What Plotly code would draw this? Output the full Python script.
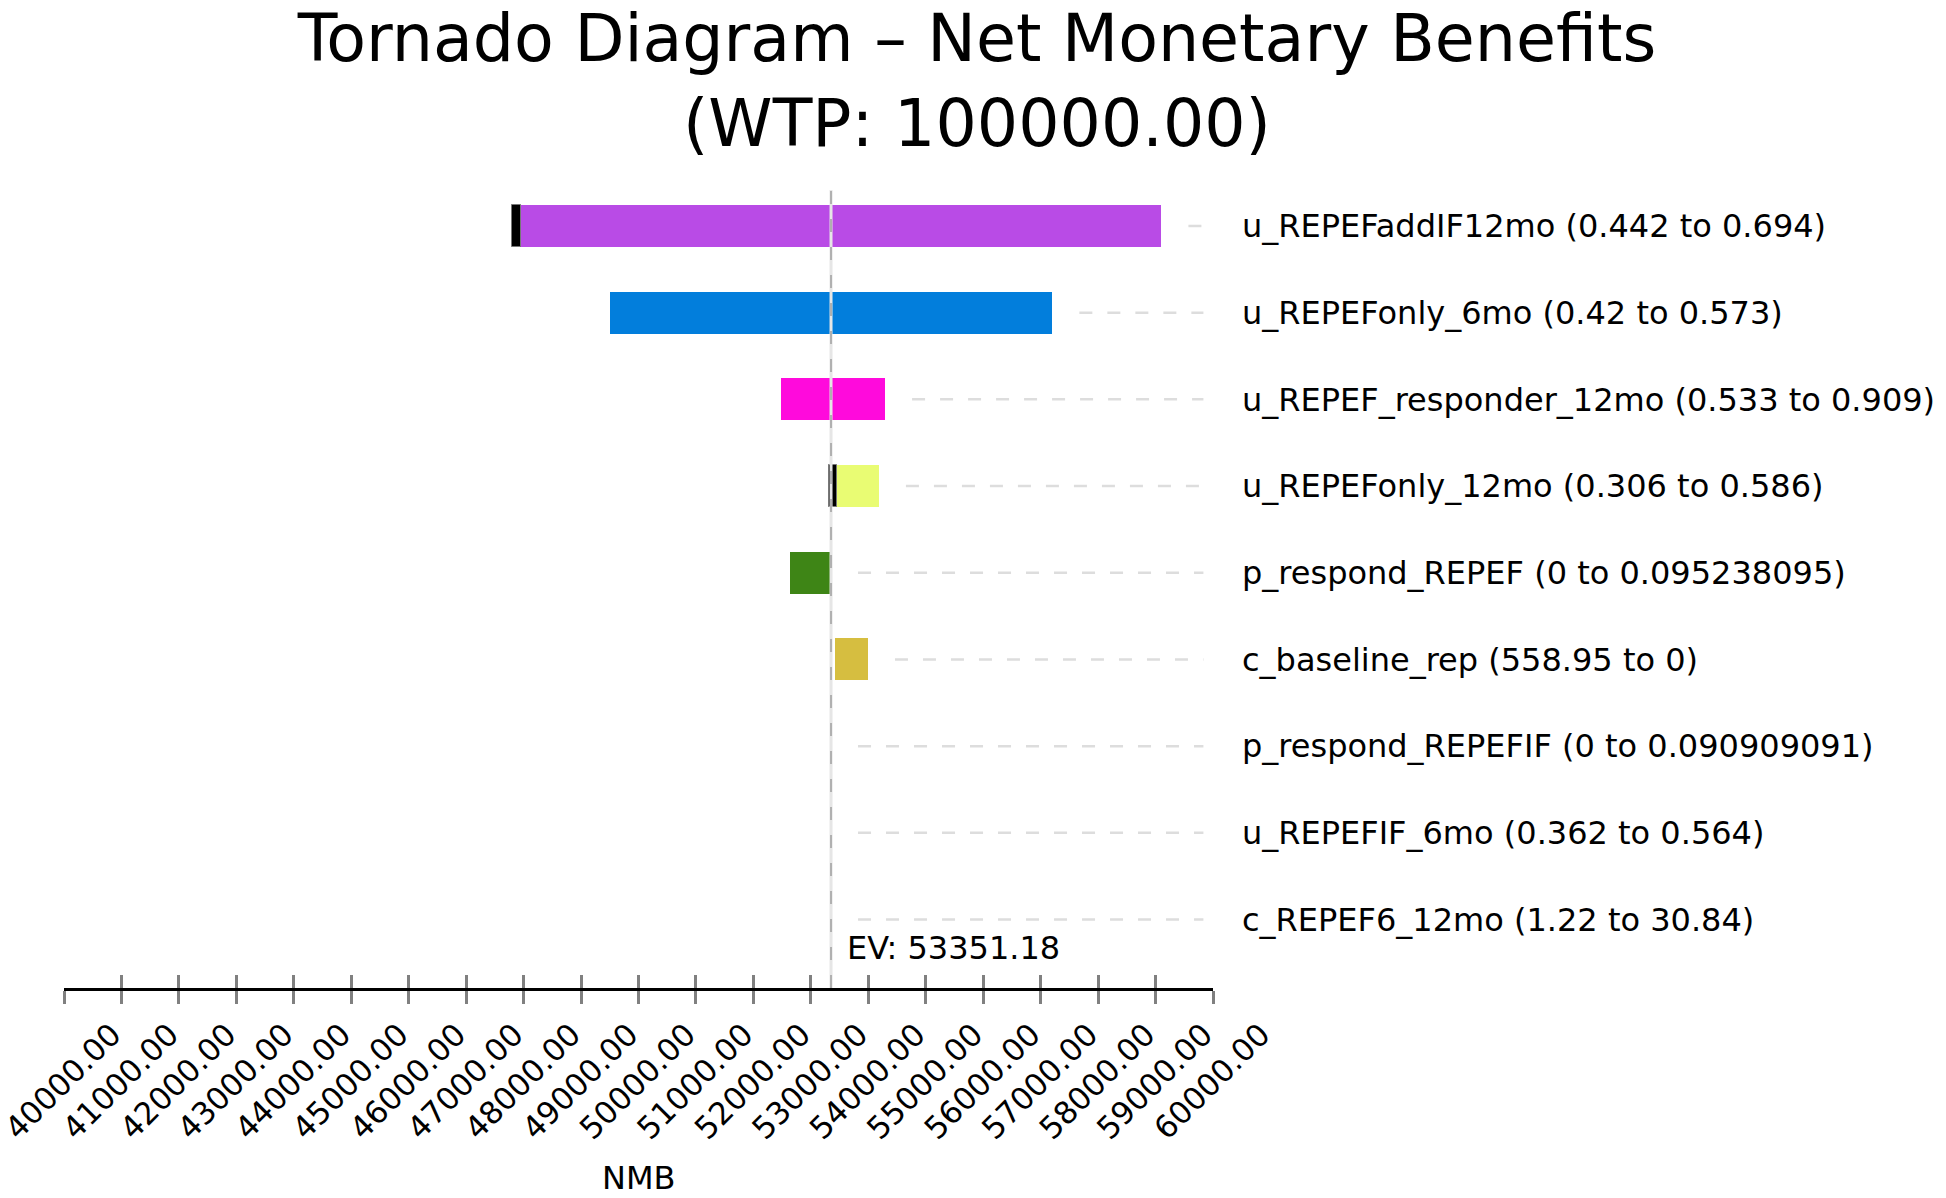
import plotly.graph_objects as go

# ---------------- data ----------------
params = [
    "u_REPEFaddIF12mo (0.442 to 0.694)",
    "u_REPEFonly_6mo (0.42 to 0.573)",
    "u_REPEF_responder_12mo (0.533 to 0.909)",
    "u_REPEFonly_12mo (0.306 to 0.586)",
    "p_respond_REPEF (0 to 0.095238095)",
    "c_baseline_rep (558.95 to 0)",
    "p_respond_REPEFIF (0 to 0.090909091)",
    "u_REPEFIF_6mo (0.362 to 0.564)",
    "c_REPEF6_12mo (1.22 to 30.84)",
]
EV = 53351.18
bar_low = [47806, 49505, 52476, 53309, 52629, 53413, 53351.18, 53351.18, 53351.18]
bar_high = [59102, 57204, 54292, 54185, 53351.18, 53994, 53351.18, 53351.18, 53351.18]
mark_low = [47806, None, None, 53309, None, None, None, None, None]
mark_high = [47952, None, None, 53455, None, None, None, None, None]
bar_colors = ["#B94BE6", "#027EDC", "#FF0ADC", "#E9FC73", "#3E8516", "#D6BE40",
              "#FFFFFF", "#FFFFFF", "#FFFFFF"]
x_ticks = [40000, 41000, 42000, 43000, 44000, 45000, 46000, 47000, 48000, 49000, 50000,
           51000, 52000, 53000, 54000, 55000, 56000, 57000, 58000, 59000, 60000]
x_min, x_max = 40000, 60000
title_text = "Tornado Diagram – Net Monetary Benefits<br>(WTP: 100000.00)"
x_title = "NMB"

# ---------------- style ----------------
FONT = "DejaVu Sans, Lucida Grande, sans-serif"
LEADER_GAP = 470     # data-unit gap between bar end and leader line
LEADER_END = 59833
BAR_WIDTH = 0.485

rows = list(range(len(params)))

fig = go.Figure()

# main bars
fig.add_trace(go.Bar(
    y=rows, base=bar_low, x=[h - l for l, h in zip(bar_low, bar_high)],
    orientation="h", width=BAR_WIDTH,
    marker=dict(color=bar_colors, line=dict(width=0)),
    hoverinfo="skip", showlegend=False,
))

# black marker segments
mk_rows = [r for r in rows if mark_low[r] is not None]
fig.add_trace(go.Bar(
    y=mk_rows, base=[mark_low[r] for r in mk_rows],
    x=[mark_high[r] - mark_low[r] for r in mk_rows],
    orientation="h", width=BAR_WIDTH,
    marker=dict(color="black", line=dict(width=1, color="#777777")),
    hoverinfo="skip", showlegend=False,
))

# dashed leader lines from bar to label
lx, ly = [], []
for r in rows:
    start = max(bar_low[r], bar_high[r], EV) + LEADER_GAP
    lx += [start, LEADER_END, None]
    ly += [r, r, None]
fig.add_trace(go.Scatter(
    x=lx, y=ly, mode="lines",
    line=dict(color="#DDDDDD", width=2.5, dash="13px,15px"),
    hoverinfo="skip", showlegend=False,
))

# dummy trace for inside-tick overlay axis
fig.add_trace(go.Scatter(x=[None], y=[None], xaxis="x2", mode="lines",
                         hoverinfo="skip", showlegend=False))

# EV line
fig.add_shape(type="line", xref="x", yref="paper", x0=EV, x1=EV, y0=0, y1=1,
              line=dict(color="#E6E6E6", width=3), layer="above")
fig.add_shape(type="line", xref="x", yref="paper", x0=EV, x1=EV, y0=0, y1=1,
              line=dict(color="#B0B0B0", width=2, dash="13px,15px"), layer="above")

fig.add_annotation(x=EV, xref="x", y=0.05, yref="paper", text=f"EV: {EV:.2f}",
                   showarrow=False, xanchor="left", yanchor="middle", xshift=14,
                   font=dict(family=FONT, size=32, color="black"))
fig.add_annotation(x=0.5, xref="paper", y=-0.238, yref="paper", text=x_title,
                   showarrow=False, xanchor="center", yanchor="middle",
                   font=dict(family=FONT, size=32, color="black"))

# page body has an 8px default margin -> figure is 8px smaller than the window
fig.update_layout(
    width=1938, height=1190,
    paper_bgcolor="white", plot_bgcolor="white",
    margin=dict(l=56, r=733, t=182, b=210, pad=0),
    title=dict(text=title_text, x=0.5, xanchor="center", xref="container",
               y=1 - 53 / 1190, yref="container", yanchor="top",
               font=dict(family=FONT, size=65, color="black")),
    bargap=0, barmode="overlay",
    xaxis=dict(range=[x_min, x_max], tickmode="array", tickvals=x_ticks,
               tickformat=".2f", tickangle=-45, ticks="outside", ticklen=13,
               tickwidth=2.5, tickcolor="#808080", showline=True, linecolor="black",
               linewidth=3, showgrid=False, zeroline=False, ticklabelshift=48,
               ticklabeloverflow="allow", automargin=False,
               tickfont=dict(family=FONT, size=31, color="black")),
    xaxis2=dict(range=[x_min, x_max], overlaying="x", anchor="y", side="bottom",
                tickmode="array", tickvals=x_ticks, ticks="inside", ticklen=13,
                tickwidth=2.5, tickcolor="#808080", showticklabels=False,
                showline=False, showgrid=False, zeroline=False, automargin=False),
    yaxis=dict(range=[8.79, -0.415], side="right", tickmode="array", tickvals=rows,
               ticktext=params, ticks="", showline=False, showgrid=False,
               zeroline=False, ticklabelstandoff=28, automargin=False,
               tickfont=dict(family=FONT, size=32, color="black")),
)

fig.write_html("out.html")
